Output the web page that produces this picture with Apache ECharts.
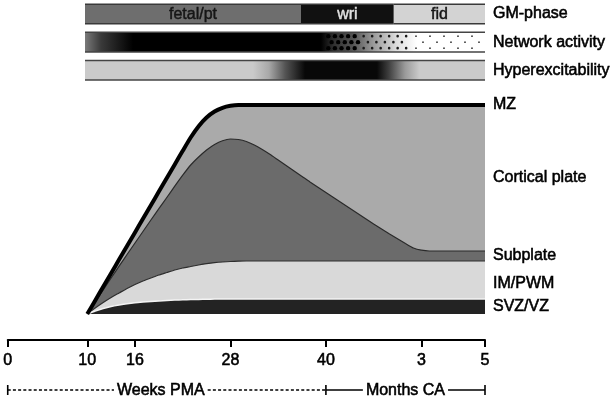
<!DOCTYPE html>
<html><head><meta charset="utf-8">
<script src="https://cdn.jsdelivr.net/npm/echarts@6/dist/echarts.min.js"></script>
<style>html,body{margin:0;padding:0;background:#fff}#c{width:616px;height:405px}</style>
</head><body><div id="c"></div>
<script>
// ---- data (weeks post-menstrual age; 3 / 5 months CA placed at 52 / 60) ----
const weeks       = [10,11,12,13,14,15,16,17,18,19,20,21,22,23,24,25,26,27,28,29,30,31,32,33,34,35,36,37,38,40,42,44,46,48,50,51,52,53,54,56,58,60];
const mzTop       = [0,13.6,27.2,40.8,54.4,68,81.6,95.2,108.8,122.4,136,149.6,163.2,176.5,187.8,196.5,202.5,206.2,208.2,209,209,209,209,209,209,209,209,209,209,209,209,209,209,209,209,209,209,209,209,209,209,209];
const subplateTop = [0,12,24,36,47.8,59.5,71,82.5,94,105.3,116.5,127.8,138.8,149,157,164,169.5,173.3,175,174.5,172.5,169,164.5,159.5,154,148.5,143,137.5,132,121.5,111,100.5,90,80,70.5,66,63.8,63,63,63,63,63];
const imTop       = [0,6,11.5,16.5,21,25.5,29.5,33,36,39,41.5,44,46,47.5,49,50.3,51.3,52,52.5,52.8,53,53,53,53,53,53,53,53,53,53,53,53,53,53,53,53,53,53,53,53,53,53];
const svzTop      = [0,3,5.5,7.5,9,10.3,11.3,12,12.6,13.1,13.5,13.9,14.2,14.4,14.6,14.8,14.9,15,15,15,15,15,15,15,15,15,15,15,15,15,15,15,15,15,15,15,15,15,15,15,15,15];
const tickValues  = [0,10,16,28,40,52,60];
const tickLabels  = ['0','10','16','28','40','3','5'];
const rowNames    = ['GM-phase','Network activity','Hyperexcitability'];
const phaseNames  = ['fetal/pt','wri','fid'];
const phaseStart  = [10,37,48.6];
const phaseEnd    = [37,48.6,60];
const networkStops = [[10,'#7a7a7a'],[12,'#3a3a3a'],[16,'#000'],[39.5,'#000'],[41,'#2e2e2e'],[43.5,'#555'],[46,'#999'],[49,'#dedede'],[51.5,'#fff'],[60,'#fff']];
const hyperStops   = [[10,'#cacaca'],[31,'#cacaca'],[33,'#a8a8a8'],[35,'#555'],[37.5,'#080808'],[46.5,'#080808'],[48,'#404040'],[50,'#9a9a9a'],[51.8,'#cacaca'],[60,'#cacaca']];
const layerNames  = ['MZ','Cortical plate','Subplate','IM/PWM','SVZ/VZ'];
const periodNames = ['Weeks PMA','Months CA'];
const periodBounds = [0,40,60];

// ---- styles ----
const FONT = '"Liberation Sans", Arial, Helvetica, sans-serif';
const txt = {color:'#000', fontSize:16, fontFamily:FONT, textBorderColor:'#000', textBorderWidth:0.55};

const pairs = arr => weeks.map((w,i)=>[w,arr[i]]);

function barGeom(api){
  const x0 = api.value(0), x1 = api.value(1);
  const p0 = api.coord([x0, api.value(2)]);
  const p1 = api.coord([x1, api.value(2)]);
  const h = api.size([0,1])[1]*0.7;
  return {x0,x1,left:p0[0],right:p1[0],cy:p0[1],h,top:p0[1]-h/2};
}

function gmRender(params, api){
  const g = barGeom(api);
  const i = params.dataIndex;
  const fills = ['#6e6e6e','#111111','#d3d3d3'];
  const tcol = ['#151515','#e0e0e0','#151515'];
  return {type:'group', children:[
    {type:'rect', shape:{x:g.left,y:g.top,width:g.right-g.left,height:g.h}, style:{fill:fills[i]}},
    {type:'line', shape:{x1:g.left,y1:g.top,x2:g.right,y2:g.top}, style:{stroke:'#3a3a3a',lineWidth:1.5}},
    {type:'line', shape:{x1:g.left,y1:g.top+g.h,x2:g.right,y2:g.top+g.h}, style:{stroke:'#3a3a3a',lineWidth:1.5}},
    {type:'text', x:(g.left+g.right)/2, y:g.cy+1, style:{text:api.value(3), fill:tcol[i], fontSize:16, fontFamily:FONT, align:'center', verticalAlign:'middle', stroke:tcol[i], lineWidth:0.45}}
  ]};
}

function gradRender(stops, dots){
  return function(params, api){
    const g = barGeom(api);
    const cs = stops.map(s=>({offset:(s[0]-g.x0)/(g.x1-g.x0), color:s[1]}));
    const children = [
      {type:'rect', shape:{x:g.left,y:g.top,width:g.right-g.left,height:g.h}, style:{fill:new echarts.graphic.LinearGradient(0,0,1,0,cs)}}
    ];
    if (dots){
      const zones = [
        {from:40,to:44.3,r:2.2,dx:6.6,c:'#000'},
        {from:44.3,to:50.5,r:1.3,dx:8.5,c:'#1a1a1a'},
        {from:50.5,to:59.5,r:0.95,dx:14,c:'#444'}
      ];
      const rows = [-6,0,6];
      zones.forEach(z=>{
        const a = api.coord([z.from, api.value(2)])[0];
        const b = api.coord([z.to, api.value(2)])[0];
        rows.forEach((ry,ri)=>{
          const shift = ri===1 ? z.dx/2 : 0;
          for (let x=a+z.dx/2+shift; x<b; x+=z.dx){
            children.push({type:'circle', shape:{cx:x, cy:g.cy+ry, r:z.r}, style:{fill:z.c}});
          }
        });
      });
    }
    children.push({type:'line', shape:{x1:g.left,y1:g.top,x2:g.right,y2:g.top}, style:{stroke:'#444',lineWidth:1.5}});
    children.push({type:'line', shape:{x1:g.left,y1:g.top+g.h,x2:g.right,y2:g.top+g.h}, style:{stroke:'#444',lineWidth:1.5}});
    return {type:'group', children};
  };
}

const areaSeries = (name, arr, fill, lineColor, lineWidth, z) => ({
  name, type:'line', xAxisIndex:0, yAxisIndex:0, data:pairs(arr), symbol:'none',
  smooth:0.2, z,
  lineStyle:{color:lineColor, width:lineWidth},
  areaStyle:{color:fill, opacity:1},
  silent:true
});

const chart = echarts.init(document.getElementById('c'), null, {renderer:'canvas'});
chart.setOption({
  animation:false,
  backgroundColor:'#fff',
  grid:[
    {left:5, right:131, top:94, height:220},
    {left:5, right:131, top:-1.25, height:85.5}
  ],
  xAxis:[
    {type:'value', gridIndex:0, min:0, max:60, offset:26,
     axisLine:{show:true, onZero:false, lineStyle:{color:'#000', width:2}},
     axisTick:{show:true, customValues:tickValues, length:7, lineStyle:{color:'#000', width:2}},
     axisLabel:{customValues:tickValues, formatter:v=>tickLabels[tickValues.indexOf(v)], margin:13, ...txt},
     splitLine:{show:false}},
    {type:'value', gridIndex:1, min:0, max:60, show:false}
  ],
  yAxis:[
    {type:'value', gridIndex:0, min:0, max:220, show:false},
    {type:'category', gridIndex:1, data:rowNames, inverse:true, position:'right',
     axisLine:{show:false}, axisTick:{show:false}, splitLine:{show:false},
     axisLabel:{margin:8, ...txt}}
  ],
  series:[
    areaSeries('Cortical plate', mzTop, '#aaaaaa', '#aaaaaa', 0, 1),
    areaSeries('Subplate', subplateTop, '#6b6b6b', '#2a2a2a', 1.2, 2),
    areaSeries('IM/PWM', imTop, '#d9d9d9', '#2e2e2e', 1.2, 3),
    areaSeries('SVZ/VZ', svzTop, '#232323', '#f4f4f4', 1.5, 4),
    {name:'MZ', type:'line', data:pairs(mzTop), symbol:'none', smooth:0.2, z:5,
     lineStyle:{color:'#000', width:4}, silent:true},
    {type:'custom', xAxisIndex:1, yAxisIndex:1, encode:{x:[0,1], y:2},
     data:phaseNames.map((n,i)=>[phaseStart[i], phaseEnd[i], 0, n]), renderItem:gmRender, silent:true},
    {type:'custom', xAxisIndex:1, yAxisIndex:1, encode:{x:[0,1], y:2},
     data:[[networkStops[0][0], networkStops[networkStops.length-1][0], 1]], renderItem:gradRender(networkStops,true), silent:true},
    {type:'custom', xAxisIndex:1, yAxisIndex:1, encode:{x:[0,1], y:2},
     data:[[hyperStops[0][0], hyperStops[hyperStops.length-1][0], 2]], renderItem:gradRender(hyperStops,false), silent:true}
  ]
});

// ---- labels and period row placed through the chart's own scales ----
const last = weeks.length-1;
const px = (x,y)=>chart.convertToPixel({gridIndex:0},[x,y]);
const xr = px(weeks[last],0)[0] + 8;
const labelY = [
  mzTop[last],
  (mzTop[last]+subplateTop[last])/2,
  (subplateTop[last]+imTop[last])/2,
  (imTop[last]+svzTop[last])/2 - 4,
  svzTop[last]/2
];
const graphics = layerNames.map((n,i)=>({
  type:'text', x:xr, y:px(weeks[last],labelY[i])[1], silent:true,
  style:{text:n, fill:'#000', stroke:'#000', lineWidth:0.55, fontSize:16, fontFamily:FONT, align:'left', verticalAlign:'middle'}
}));

const ctx = document.createElement('canvas').getContext('2d');
ctx.font = '16px "Liberation Sans"';
const rowY = 390;
const bx = periodBounds.map(v=>px(v,0)[0]);
for (let k=0;k<2;k++){
  const a = bx[k], b = bx[k+1];
  const tw = ctx.measureText(periodNames[k]).width;
  const cx = (a+b)/2 - (k===0 ? 6 : 0);
  const dash = k===0 ? [3,2.2] : null;
  graphics.push({type:'line', silent:true, shape:{x1:a,y1:rowY,x2:cx-tw/2-3,y2:rowY}, style:{stroke:'#000',lineWidth:1.4,lineDash:dash}});
  graphics.push({type:'line', silent:true, shape:{x1:cx+tw/2+3,y1:rowY,x2:b,y2:rowY}, style:{stroke:'#000',lineWidth:1.4,lineDash:dash}});
  graphics.push({type:'text', silent:true, x:cx, y:rowY+1, style:{text:periodNames[k], fill:'#000', stroke:'#000', lineWidth:0.55, fontSize:16, fontFamily:FONT, align:'center', verticalAlign:'middle'}});
}
bx.forEach(x=>graphics.push({type:'line', silent:true, shape:{x1:x,y1:rowY-5,x2:x,y2:rowY+5}, style:{stroke:'#000',lineWidth:1.6}}));
chart.setOption({graphic:graphics});
</script>
</body></html>
